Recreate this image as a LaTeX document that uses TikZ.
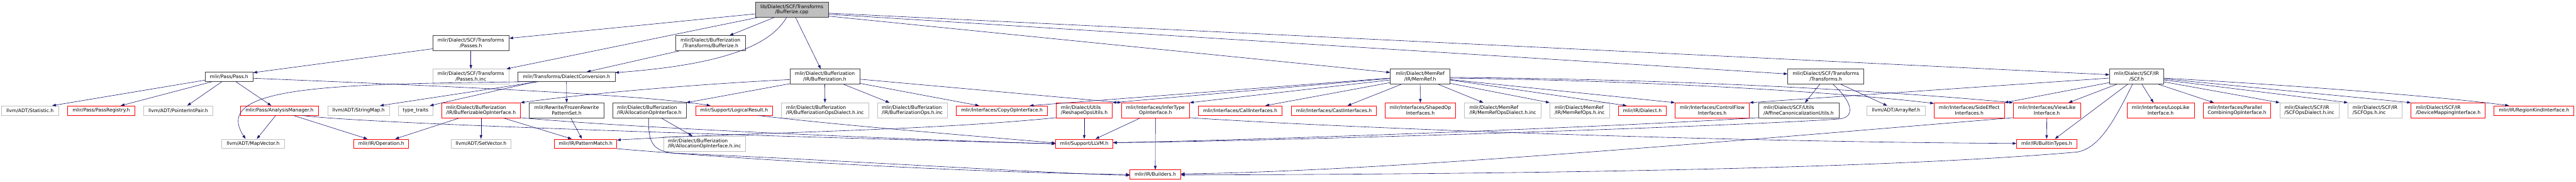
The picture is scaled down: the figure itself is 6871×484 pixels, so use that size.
\documentclass[tikz,border=0pt]{standalone}
\usepackage{fontspec}
\setmainfont{DejaVu Sans}
\usepackage{tikz}
\usetikzlibrary{arrows.meta, calc}
\definecolor{edgecol}{RGB}{25,25,112}
\definecolor{doccol}{RGB}{64,64,64}
\definecolor{extcol}{RGB}{191,191,191}
\definecolor{rootcol}{RGB}{191,191,191}
\definecolor{trunccol}{RGB}{255,0,0}
\tikzset{
  filebox/.style={rectangle, fill=white, line width=1.1pt, inner sep=0pt, align=center, text=black},
  docnode/.style={filebox, draw=doccol},
  rootnode/.style={filebox, draw=doccol, fill=rootcol},
  extnode/.style={filebox, draw=extcol},
  truncnode/.style={filebox, draw=trunccol},
  oneline/.style={minimum height=25pt},
  twoline/.style={minimum height=40pt},
  wd/.style={minimum width=#1pt},
  lft/.style={align=left},
  incl/.style={edgecol, line width=1pt, -{Triangle[length=10pt,width=7pt]}}
}

\begin{document}
\begin{tikzpicture}[
    x=1pt, y=-1pt,
    font=\fontsize{12.8}{14.3}\selectfont
  ]
  \useasboundingbox (0,0) rectangle (6871,484);

  % --- rank 0 and 1 ------------------------------------------------------
  \node[rootnode, twoline, wd=194] (root) at (2112,26) {lib/Dialect/SCF/Transforms\\/Bufferize.cpp};
  \node[docnode, twoline, wd=204] (scfpasses) at (1256,115) {mlir/Dialect/SCF/Transforms\\/Passes.h};
  \node[docnode, twoline, wd=186] (bufbufferize) at (1895,115) {mlir/Dialect/Bufferization\\/Transforms/Bufferize.h};

  % --- rank 2 ------------------------------------------------------------
  \node[docnode, oneline, wd=128] (passh) at (611,204.5) {mlir/Pass/Pass.h};
  \node[extnode, twoline, wd=204] (scfpassesinc) at (1256,204) {mlir/Dialect/SCF/Transforms\\/Passes.h.inc};
  \node[docnode, oneline, wd=259] (dialectconv) at (1511,204.5) {mlir/Transforms/DialectConversion.h};
  \node[docnode, twoline, wd=186] (bufferizationh) at (2200,204) {mlir/Dialect/Bufferization\\/IR/Bufferization.h};
  \node[docnode, twoline, wd=159] (memrefh) at (3788,204) {mlir/Dialect/MemRef\\/IR/MemRef.h};
  \node[docnode, twoline, wd=203] (scftransformsh) at (4870,204) {mlir/Dialect/SCF/Transforms\\/Transforms.h};
  \node[docnode, twoline, wd=144] (scfh) at (5699,204) {mlir/Dialect/SCF/IR\\/SCF.h};

  % --- rank 3 ------------------------------------------------------------
  \node[extnode, oneline, wd=152] (statistic) at (80,294.5) {llvm/ADT/Statistic.h};
  \node[truncnode, oneline, wd=180] (passregistry) at (270,294.5) {mlir/Pass/PassRegistry.h};
  \node[extnode, oneline, wd=185] (pointerintpair) at (475.5,294.5) {llvm/ADT/PointerIntPair.h};
  \node[truncnode, oneline, wd=209] (analysismanager) at (745.5,294.5) {mlir/Pass/AnalysisManager.h};
  \node[extnode, oneline, wd=165] (stringmap) at (956.5,294.5) {llvm/ADT/StringMap.h};
  \node[extnode, oneline, wd=93] (typetraits) at (1108.5,294.5) {type\_traits};
  \node[truncnode, twoline, wd=210, lft] (bufferizableop) at (1283,294) {mlir/Dialect/Bufferization\\/IR/BufferizableOpInterface.h};
  \node[docnode, twoline, wd=199] (frozenrewrite) at (1511.5,294) {mlir/Rewrite/FrozenRewrite\\PatternSet.h};
  \node[docnode, twoline, wd=196, lft] (allocationop) at (1732,294) {mlir/Dialect/Bufferization\\/IR/AllocationOpInterface.h};
  \node[truncnode, oneline, wd=206] (logicalresult) at (1958,294.5) {mlir/Support/LogicalResult.h};
  \node[extnode, twoline, wd=232, lft] (bufopsdialectinc) at (2200.5,294) {mlir/Dialect/Bufferization\\/IR/BufferizationOpsDialect.h.inc};
  \node[extnode, twoline, wd=187, lft] (bufopsinc) at (2433.5,294) {mlir/Dialect/Bufferization\\/IR/BufferizationOps.h.inc};
  \node[truncnode, oneline, wd=243] (copyop) at (2672.5,294.5) {mlir/Interfaces/CopyOpInterface.h};
  \node[truncnode, twoline, wd=150, lft] (reshapeops) at (2892,294) {mlir/Dialect/Utils\\/ReshapeOpsUtils.h};
  \node[truncnode, twoline, wd=182] (infertype) at (3082,294) {mlir/Interfaces/InferType\\OpInterface.h};
  \node[truncnode, oneline, wd=223] (callinterfaces) at (3308,294.5) {mlir/Interfaces/CallInterfaces.h};
  \node[truncnode, oneline, wd=227] (castinterfaces) at (3558,294.5) {mlir/Interfaces/CastInterfaces.h};
  \node[truncnode, twoline, wd=187] (shapedop) at (3788.5,294) {mlir/Interfaces/ShapedOp\\Interfaces.h};
  \node[extnode, twoline, wd=205, lft] (memrefopsdialectinc) at (4008.5,294) {mlir/Dialect/MemRef\\/IR/MemRefOpsDialect.h.inc};
  \node[extnode, twoline, wd=159, lft] (memrefopsinc) at (4213.5,294) {mlir/Dialect/MemRef\\/IR/MemRefOps.h.inc};
  \node[truncnode, oneline, wd=127] (dialecth) at (4380.5,294.5) {mlir/IR/Dialect.h};
  \node[truncnode, twoline, wd=198] (controlflow) at (4567,294) {mlir/Interfaces/ControlFlow\\Interfaces.h};
  \node[docnode, twoline, wd=215, lft] (affinecanon) at (4797.5,294) {mlir/Dialect/SCF/Utils\\/AffineCanonicalizationUtils.h};
  \node[extnode, oneline, wd=155] (arrayref) at (5057.5,294.5) {llvm/ADT/ArrayRef.h};
  \node[truncnode, twoline, wd=187] (sideeffect) at (5252.5,294) {mlir/Interfaces/SideEffect\\Interfaces.h};
  \node[truncnode, twoline, wd=179] (viewlike) at (5459.5,294) {mlir/Interfaces/ViewLike\\Interface.h};
  \node[truncnode, twoline, wd=180] (looplike) at (5763,294) {mlir/Interfaces/LoopLike\\Interface.h};
  \node[truncnode, twoline, wd=180, lft] (parallel) at (5967,294) {mlir/Interfaces/Parallel\\CombiningOpInterface.h};
  \node[extnode, twoline, wd=158, lft] (scfopsdialectinc) at (6160,294) {mlir/Dialect/SCF/IR\\/SCFOpsDialect.h.inc};
  \node[extnode, twoline, wd=144, lft] (scfopsinc) at (6335,294) {mlir/Dialect/SCF/IR\\/SCFOps.h.inc};
  \node[truncnode, twoline, wd=198, lft] (devicemapping) at (6530,294) {mlir/Dialect/SCF/IR\\/DeviceMappingInterface.h};
  \node[truncnode, oneline, wd=213] (regionkind) at (6759,294.5) {mlir/IR/RegionKindInterface.h};

  % --- rank 4 and 5 ------------------------------------------------------
  \node[extnode, oneline, wd=168] (mapvector) at (675,383) {llvm/ADT/MapVector.h};
  \node[truncnode, oneline, wd=146] (operation) at (1017,383) {mlir/IR/Operation.h};
  \node[extnode, oneline, wd=159] (setvector) at (1283,383) {llvm/ADT/SetVector.h};
  \node[truncnode, oneline, wd=166] (patternmatch) at (1562,383) {mlir/IR/PatternMatch.h};
  \node[extnode, twoline, wd=218, lft] (allocationopinc) at (1879,383) {mlir/Dialect/Bufferization\\/IR/AllocationOpInterface.h.inc};
  \node[truncnode, oneline, wd=152] (llvmh) at (2892,383) {mlir/Support/LLVM.h};
  \node[truncnode, oneline, wd=160] (builtintypes) at (5459,383) {mlir/IR/BuiltinTypes.h};
  \node[truncnode, oneline, wd=135] (builders) at (3081.5,465) {mlir/IR/Builders.h};

  % --- includes of the source file -----------------------------------------
  \draw[incl] ($(root.west)+(0,11)$) -- ($(scfpasses.east)+(0,-13)$);
  \draw[incl] ($(root.south)+(-91,0)$) -- ($(scfpassesinc.north)+(95,0)$);
  \draw[incl] ($(root.south)+(-47,0)$) -- ($(bufbufferize.north)+(51,0)$);
  \draw[incl] ($(root.south)+(-14,0)$) .. controls (2060,110) and (1960,170) .. ($(dialectconv.east)+(0,-11)$);
  \draw[incl] ($(root.south)+(10,0)$) -- ($(bufferizationh.north)+(-11,0)$);
  \draw[incl] ($(root.east)+(0,17)$) -- ($(memrefh.west)+(0,-11)$);
  \draw[incl] ($(root.east)+(0,12)$) -- ($(scftransformsh.west)+(0,-7)$);
  \draw[incl] ($(root.east)+(0,9)$) -- ($(scfh.west)+(0,-5)$);

  % --- pass headers -------------------------------------------------------
  \draw[incl] ($(scfpasses.west)+(0,15)$) -- ($(passh.east)+(0,-11)$);
  \draw[incl] (scfpasses.south) -- (scfpassesinc.north);
  \draw[incl] ($(passh.west)+(0,9)$) -- ($(statistic.north)+(59,0)$);
  \draw[incl] ($(passh.south)+(-45,0)$) -- ($(passregistry.north)+(52,0)$);
  \draw[incl] ($(passh.south)+(-19,0)$) -- ($(pointerintpair.north)+(24,0)$);
  \draw[incl] ($(passh.south)+(18,0)$) -- ($(analysismanager.north)+(-22,0)$);
  \draw[incl] ($(passh.east)+(0,4)$) .. controls (1100,226) and (1700,250) .. ($(logicalresult.north)+(-63,0)$);
  \draw[incl] ($(analysismanager.south)+(-10,0)$) -- ($(mapvector.north)+(10,0)$);
  \draw[incl] ($(analysismanager.south)+(37,0)$) -- ($(operation.north)+(-37,0)$);
  \draw[incl] ($(analysismanager.south)+(60,0)$) .. controls (1000,333) and (2300,370) .. (llvmh.west);

  % --- dialect conversion ---------------------------------------------------
  \draw[incl] ($(bufbufferize.south)+(-83,0)$) -- ($(dialectconv.north)+(54,0)$);
  \draw[incl] (dialectconv.south) -- (frozenrewrite.north);
  \draw[incl] ($(dialectconv.south)+(-75,0)$) -- ($(stringmap.north)+(57,0)$);
  \draw[incl] ($(dialectconv.south)+(-82,0)$) -- ($(typetraits.north)+(38,0)$);
  \draw[incl] ($(dialectconv.south)+(-90,0)$) .. controls (900,224) and (560,226) .. ($(mapvector.north)+(-20,0)$);
  \draw[incl] ($(frozenrewrite.south)+(11,0)$) -- ($(patternmatch.north)+(-10,0)$);
  \draw[incl] (patternmatch.south east) .. controls (1900,418) and (2500,458) .. (builders.west);

  % --- bufferization --------------------------------------------------------
  \draw[incl] ($(bufferizationh.west)+(0,8)$) .. controls (1900,222) and (1600,245) .. (bufferizableop.north east);
  \draw[incl] ($(bufferizationh.west)+(0,19)$) -- (allocationop.north east);
  \draw[incl] (bufferizationh.south) -- (bufopsdialectinc.north);
  \draw[incl] ($(bufferizationh.south)+(50,0)$) -- ($(bufopsinc.north)+(-61,0)$);
  \draw[incl] ($(bufferizationh.east)+(0,18)$) -- ($(copyop.north)+(-61,0)$);
  \draw[incl] ($(bufferizationh.east)+(0,7)$) -- (infertype.north west);
  \draw[incl] (bufferizableop.south) -- (setvector.north);
  \draw[incl] ($(bufferizableop.south)+(60,0)$) -- ($(patternmatch.north)+(-37,0)$);
  \draw[incl] ($(bufferizableop.south)+(-58,0)$) -- ($(operation.north)+(37,0)$);
  \draw[incl] ($(bufferizableop.south east)+(0,-1)$) .. controls (1650,338) and (2300,368) .. (llvmh.west);
  \draw[incl] ($(allocationop.south)+(32,0)$) -- ($(allocationopinc.north)+(-32,0)$);
  \draw[incl] ($(allocationop.south)+(-2,0)$) .. controls (1728,385) and (1745,403) .. (1800,408)
    .. controls (2300,430) and (2800,462) .. ($(builders.west)+(0,2)$);
  \draw[incl] ($(logicalresult.south)+(63,0)$) .. controls (2250,335) and (2600,362) .. ($(llvmh.west)+(0,-2)$);

  % --- interfaces -----------------------------------------------------------
  \draw[incl] (reshapeops.south) -- (llvmh.north);
  \draw[incl] ($(reshapeops.south west)+(0,-1)$) .. controls (2450,350) and (2000,352) .. ($(patternmatch.east)+(0,-10)$);
  \draw[incl] ($(infertype.south)+(-41,0)$) -- ($(llvmh.north)+(30,0)$);
  \draw[incl] (infertype.south) -- (builders.north);
  \draw[incl] ($(infertype.south east)+(0,-1)$) .. controls (3600,342) and (4600,378) .. ($(builtintypes.west)+(0,-1)$);
  \draw[incl] (viewlike.south) -- (builtintypes.north);
  \draw[incl] ($(viewlike.south west)+(0,-1)$) .. controls (4800,360) and (3700,458) .. ($(builders.east)+(0,-2)$);

  % --- memref dialect -------------------------------------------------------
  \draw[incl] ($(memrefh.west)+(0,4)$) -- ($(copyop.north east)+(-48,0)$);
  \draw[incl] ($(memrefh.west)+(0,5)$) -- (reshapeops.north east);
  \draw[incl] ($(memrefh.west)+(0,9)$) -- (infertype.north east);
  \draw[incl] ($(memrefh.west)+(0,16)$) -- ($(callinterfaces.north)+(67,0)$);
  \draw[incl] ($(memrefh.south)+(-50,0)$) -- ($(castinterfaces.north)+(36,0)$);
  \draw[incl] (memrefh.south) -- (shapedop.north);
  \draw[incl] ($(memrefh.south)+(48,0)$) -- ($(memrefopsdialectinc.north)+(-52,0)$);
  \draw[incl] ($(memrefh.east)+(0,18)$) -- (memrefopsinc.north west);
  \draw[incl] ($(memrefh.east)+(0,9)$) -- ($(dialecth.north)+(-42,0)$);
  \draw[incl] ($(memrefh.east)+(0,8)$) -- (controlflow.north west);
  \draw[incl] ($(memrefh.east)+(0,4)$) .. controls (4400,215) and (4900,245) .. ($(sideeffect.north west)+(0,2)$);
  \draw[incl] ($(memrefh.east)+(0,2)$) .. controls (4500,212) and (5000,240) .. (viewlike.north west);

  % --- scf transforms -------------------------------------------------------
  \draw[incl] ($(scftransformsh.south)+(-16,0)$) -- ($(affinecanon.north)+(17,0)$);
  \draw[incl] ($(scftransformsh.south)+(40,0)$) -- ($(arrayref.north)+(-24,0)$);
  \draw[incl] ($(scftransformsh.south)+(19,0)$) .. controls (4935,265) and (4955,312) .. (4905,317)
    .. controls (4600,338) and (3400,376) .. ($(llvmh.east)+(0,-3)$);
  \draw[incl] ($(affinecanon.south west)+(0,-1)$) .. controls (4300,338) and (3400,372) .. ($(llvmh.east)+(0,-3)$);

  % --- scf dialect ----------------------------------------------------------
  \draw[incl] ($(scfh.west)+(0,4)$) -- (controlflow.north east);
  \draw[incl] ($(scfh.west)+(0,16)$) -- (sideeffect.north east);
  \draw[incl] ($(scfh.south)+(-53,0)$) -- ($(viewlike.north)+(58,0)$);
  \draw[incl] ($(scfh.south)+(-24,0)$) -- ($(builtintypes.north)+(22,0)$);
  \draw[incl] ($(scfh.south)+(-11,0)$) .. controls (5640,320) and (5600,395) .. (5540,405)
    .. controls (5000,452) and (4000,464) .. ($(builders.east)+(0,1)$);
  \draw[incl] ($(scfh.south)+(14,0)$) -- ($(looplike.north)+(-19,0)$);
  \draw[incl] ($(scfh.south)+(58,0)$) -- ($(parallel.north)+(-62,0)$);
  \draw[incl] ($(scfh.east)+(0,14)$) -- (scfopsdialectinc.north west);
  \draw[incl] ($(scfh.east)+(0,9)$) -- (scfopsinc.north west);
  \draw[incl] ($(scfh.east)+(0,6)$) -- (devicemapping.north west);
  \draw[incl] ($(scfh.east)+(0,4)$) .. controls (6200,232) and (6550,262) .. ($(regionkind.north)+(-67,0)$);

\end{tikzpicture}
\end{document}
